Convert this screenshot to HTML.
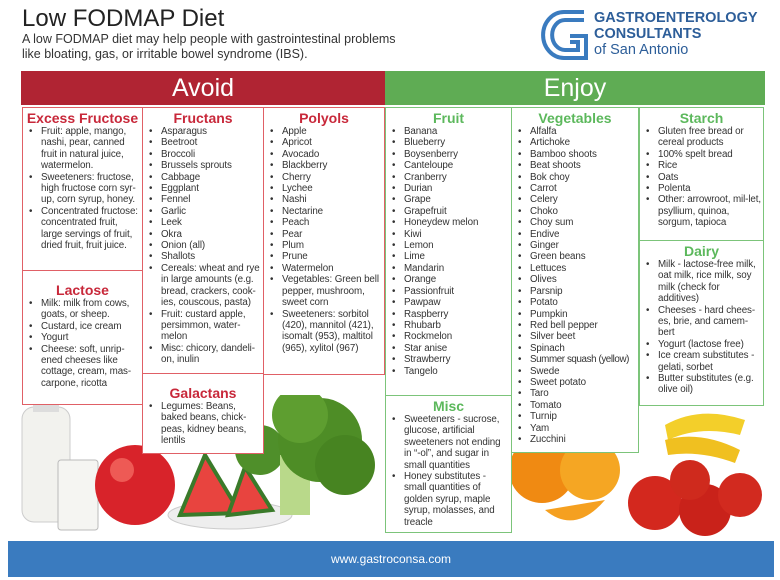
<!DOCTYPE html>
<html><head><meta charset="utf-8"><style>
*{margin:0;padding:0;box-sizing:border-box}
body{width:780px;height:580px;background:#fff;font-family:"Liberation Sans",sans-serif;position:relative;overflow:hidden;color:#222}
.a{position:absolute}
.box{position:absolute;border:1.5px solid #e06066;background:#fff;z-index:2;overflow:hidden}
.g{border-color:#7cc47a}
.box h3{text-align:center;font-size:14px;font-weight:bold;color:#c8283a;line-height:15px;margin-top:3px}
.g h3{color:#5cb85c}
ul{list-style:none;font-size:9.8px;line-height:11.4px;padding-left:5px;padding-right:1px;color:#333;letter-spacing:-0.1px}
li{position:relative;padding-left:13px}
li:before{content:"•";position:absolute;left:1px}
.hdr{position:absolute;top:71px;height:34px;color:#fff;font-size:25px;text-align:center;line-height:34px}
</style></head><body>
<div class="a" style="left:22px;top:5px;font-size:24px;color:#222">Low FODMAP Diet</div>
<div class="a" style="left:22px;top:32px;font-size:12.5px;line-height:15px;color:#333">A low FODMAP diet may help people with gastrointestinal problems<br>like bloating, gas, or irritable bowel syndrome (IBS).</div>
<svg class="a" style="left:540px;top:6px" width="52" height="58" viewBox="0 0 52 58">
<g fill="none" stroke="#3a7bbf" stroke-width="4">
<path d="M44 6 H24 A20 22 0 0 0 24 52 H46 V30 H30"/>
<path d="M44 14 H25 A12 14 0 0 0 25 44 H38 V36 H30"/>
</g></svg>
<div class="a" style="left:594px;top:10px;font-size:14.5px;line-height:16px;font-weight:bold;color:#2d5e99">GASTROENTEROLOGY<br>CONSULTANTS<br><span style="font-weight:normal">of San Antonio</span></div>
<div class="hdr" style="left:21px;width:364px;background:#b02433">Avoid</div>
<div class="hdr" style="left:385px;width:380px;background:#5fac54">Enjoy</div>

<svg class="a" style="left:0;top:395px;z-index:1" width="780" height="145">
<rect x="22" y="12" width="48" height="115" rx="12" fill="#f2f2ee" stroke="#ccc"/>
<rect x="33" y="3" width="26" height="14" fill="#ddd"/>
<rect x="58" y="65" width="40" height="70" rx="3" fill="#f5f5f2" stroke="#bbb"/>
<circle cx="135" cy="90" r="40" fill="#d8232a"/><circle cx="122" cy="75" r="12" fill="#ee5a55"/>
<ellipse cx="230" cy="120" rx="62" ry="14" fill="#eee" stroke="#ccc"/>
<path d="M180 120 L205 60 L240 118 Z" fill="#e8443f" stroke="#3a7a2a" stroke-width="4"/>
<path d="M228 120 L245 72 L272 115 Z" fill="#e8443f" stroke="#3a7a2a" stroke-width="4"/>
<circle cx="260" cy="55" r="25" fill="#4f8f2a"/>
<rect x="280" y="60" width="30" height="60" fill="#b9d98a"/>
<circle cx="320" cy="45" r="42" fill="#4e8d26"/><circle cx="300" cy="20" r="28" fill="#5e9e30"/><circle cx="345" cy="70" r="30" fill="#478421"/>
<circle cx="542" cy="75" r="33" fill="#f08a12"/><circle cx="590" cy="75" r="30" fill="#f5a623"/>
<path d="M545 115 Q575 140 605 105 Z" fill="#f5a020"/>
<path d="M665 30 Q700 10 745 25 L740 40 Q700 30 668 45Z" fill="#f3cf2a"/>
<path d="M665 45 Q700 35 740 55 L735 68 Q700 55 668 60Z" fill="#f0c020"/>
<circle cx="655" cy="108" r="27" fill="#d3281e"/><circle cx="705" cy="115" r="26" fill="#c9221a"/><circle cx="740" cy="100" r="22" fill="#d22a1f"/><circle cx="690" cy="85" r="20" fill="#cf2a1d"/>
</svg>

<div class="box" style="left:22px;top:107px;width:121px;height:164px"><h3>Excess Fructose</h3><ul>
<li>Fruit: apple, mango, nashi, pear, canned fruit in natural juice, watermelon.</li>
<li>Sweeteners: fructose, high fructose corn syr-up, corn syrup, honey.</li>
<li>Concentrated fructose: concentrated fruit, large servings of fruit, dried fruit, fruit juice.</li></ul></div>
<div class="box" style="left:22px;top:270px;width:121px;height:135px"><h3 style="margin-top:12px">Lactose</h3><ul>
<li>Milk: milk from cows, goats, or sheep.</li><li>Custard, ice cream</li><li>Yogurt</li>
<li>Cheese: soft, unrip-ened cheeses like cottage, cream, mas-carpone, ricotta</li></ul></div>
<div class="box" style="left:142px;top:107px;width:122px;height:267px"><h3>Fructans</h3><ul>
<li>Asparagus</li><li>Beetroot</li><li>Broccoli</li><li>Brussels sprouts</li><li>Cabbage</li><li>Eggplant</li><li>Fennel</li><li>Garlic</li><li>Leek</li><li>Okra</li><li>Onion (all)</li><li>Shallots</li>
<li>Cereals: wheat and rye in large amounts (e.g. bread, crackers, cook-ies, couscous, pasta)</li>
<li>Fruit: custard apple, persimmon, water-melon</li><li>Misc: chicory, dandeli-on, inulin</li></ul></div>
<div class="box" style="left:142px;top:373px;width:122px;height:81px"><h3 style="margin-top:12px">Galactans</h3><ul>
<li>Legumes: Beans, baked beans, chick-peas, kidney beans, lentils</li></ul></div>
<div class="box" style="left:263px;top:107px;width:122px;height:268px"><h3>Polyols</h3><ul>
<li>Apple</li><li>Apricot</li><li>Avocado</li><li>Blackberry</li><li>Cherry</li><li>Lychee</li><li>Nashi</li><li>Nectarine</li><li>Peach</li><li>Pear</li><li>Plum</li><li>Prune</li><li>Watermelon</li>
<li>Vegetables: Green bell pepper, mushroom, sweet corn</li>
<li>Sweeteners: sorbitol (420), mannitol (421), isomalt (953), maltitol (965), xylitol (967)</li></ul></div>

<div class="box g" style="left:385px;top:107px;width:127px;height:289px"><h3>Fruit</h3><ul>
<li>Banana</li><li>Blueberry</li><li>Boysenberry</li><li>Canteloupe</li><li>Cranberry</li><li>Durian</li><li>Grape</li><li>Grapefruit</li><li>Honeydew melon</li><li>Kiwi</li><li>Lemon</li><li>Lime</li><li>Mandarin</li><li>Orange</li><li>Passionfruit</li><li>Pawpaw</li><li>Raspberry</li><li>Rhubarb</li><li>Rockmelon</li><li>Star anise</li><li>Strawberry</li><li>Tangelo</li></ul></div>
<div class="box g" style="left:385px;top:395px;width:127px;height:138px"><h3>Misc</h3><ul>
<li>Sweeteners - sucrose, glucose, artificial sweeteners not ending in “-ol”, and sugar in small quantities</li>
<li>Honey substitutes - small quantities of golden syrup, maple syrup, molasses, and treacle</li></ul></div>
<div class="box g" style="left:511px;top:107px;width:128px;height:346px"><h3>Vegetables</h3><ul>
<li>Alfalfa</li><li>Artichoke</li><li>Bamboo shoots</li><li>Beat shoots</li><li>Bok choy</li><li>Carrot</li><li>Celery</li><li>Choko</li><li>Choy sum</li><li>Endive</li><li>Ginger</li><li>Green beans</li><li>Lettuces</li><li>Olives</li><li>Parsnip</li><li>Potato</li><li>Pumpkin</li><li>Red bell pepper</li><li>Silver beet</li><li>Spinach</li><li style="white-space:nowrap;letter-spacing:-0.4px">Summer squash (yellow)</li><li>Swede</li><li>Sweet potato</li><li>Taro</li><li>Tomato</li><li>Turnip</li><li>Yam</li><li>Zucchini</li></ul></div>
<div class="box g" style="left:639px;top:107px;width:125px;height:134px"><h3>Starch</h3><ul>
<li>Gluten free bread or cereal products</li><li>100% spelt bread</li><li>Rice</li><li>Oats</li><li>Polenta</li><li>Other: arrowroot, mil-let, psyllium, quinoa, sorgum, tapioca</li></ul></div>
<div class="box g" style="left:639px;top:240px;width:125px;height:166px"><h3>Dairy</h3><ul>
<li>Milk - lactose-free milk, oat milk, rice milk, soy milk (check for additives)</li>
<li>Cheeses - hard chees-es, brie, and camem-bert</li><li>Yogurt (lactose free)</li>
<li>Ice cream substitutes - gelati, sorbet</li><li>Butter substitutes (e.g. olive oil)</li></ul></div>

<div class="a" style="left:8px;top:541px;width:766px;height:36px;background:#3a7bbf;color:#fff;font-size:12px;text-align:center;line-height:36px">www.gastroconsa.com</div>
</body></html>
